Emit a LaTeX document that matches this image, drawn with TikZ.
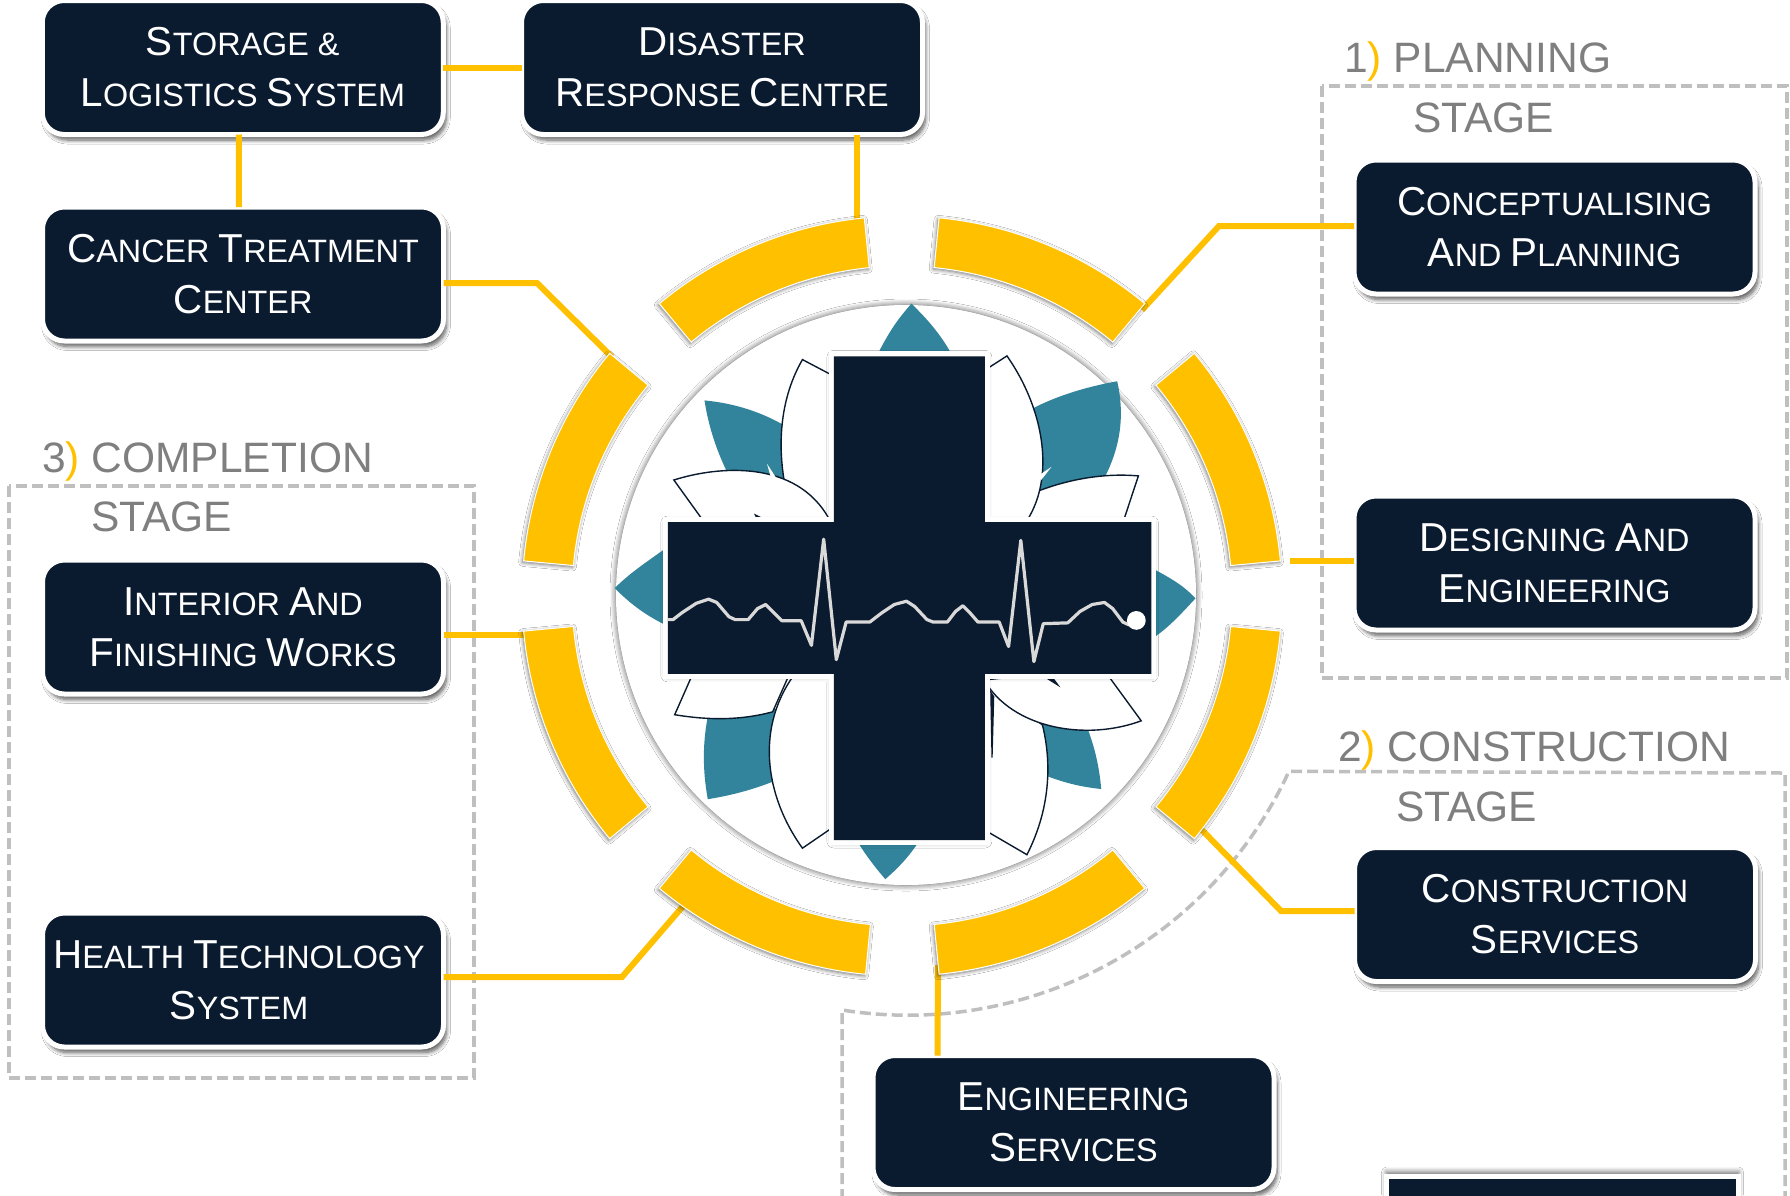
\documentclass[tikz,border=0pt]{standalone}
\usepackage{fontspec}
\setmainfont{Liberation Sans}
\usetikzlibrary{shadows.blur,calc}
\definecolor{navy}{HTML}{0B1B2F}
\definecolor{teal}{HTML}{31849B}
\definecolor{gold}{HTML}{FFC000}
\definecolor{lab}{HTML}{7F7F7F}
\definecolor{dash}{HTML}{BFBFBF}
\newcommand\C[1]{{\fontsize{40.4}{51}\selectfont #1}}
\newcommand\seg[2]{\path[segstyle] ([shift={(-#1:380)}]902,596) arc[start angle=-#1,end angle=-#2,radius=380] -- ([shift={(-#2:330)}]902,596) arc[start angle=-#2,end angle=-#1,radius=330] -- cycle;}
\tikzset{
  softshadow/.style={blur shadow={shadow xshift=3pt,shadow yshift=-5.5pt,shadow blur radius=4pt,shadow blur steps=8,shadow opacity=65}},
  box/.style={rectangle,rounded corners=22pt,draw=white,fill=navy,line width=5pt,inner sep=0pt,outer sep=0pt,minimum width=401pt,minimum height=134pt,text=white,align=center,font=\fontsize{32.35}{51}\selectfont,softshadow},
  plainbox/.style={rectangle,draw=white,fill=navy,line width=5pt,inner sep=0pt,outer sep=0pt,minimum width=352pt,minimum height=240pt,blur shadow={shadow xshift=0pt,shadow yshift=4pt,shadow blur radius=5pt,shadow blur steps=8,shadow opacity=60}},
  link/.style={draw=gold,line width=6pt,line join=miter},
  frame/.style={draw=dash,line width=3.5pt,dash pattern=on 11pt off 5pt},
  stagelabel/.style={anchor=base west,inner sep=0pt,text=lab,font=\fontsize{42.5}{42.5}\selectfont},
  segstyle/.style={fill=gold,draw=white,line width=1pt,blur shadow={shadow xshift=-1pt,shadow yshift=-1.5pt,shadow blur radius=4pt,shadow blur steps=6,shadow opacity=55}},
  disc/.style={circle,fill=white,minimum size=580pt,inner sep=0pt,blur shadow={shadow xshift=0pt,shadow yshift=0pt,shadow blur radius=6pt,shadow blur steps=6,shadow opacity=70}},
  leaf/.style={fill=white,draw=navy,line width=1.4pt,line join=miter},
}
\begin{document}
\begin{tikzpicture}[x=1pt,y=-1pt]
\useasboundingbox (0,0) rectangle (1790,1195);
\fill[white] (0,0) rectangle (1790,1195);

% frames
\draw[frame] (1322,86) rectangle (1787,678);
\draw[frame] (9,486) rectangle (474,1078);
\draw[frame] (842,1200) -- (842,1010) arc[start angle=99,end angle=24.8,radius=420] -- (1785,773) -- (1785,1200);

% nodes
\node[box] (storage) at (242.75,67.5) {\C{S}TORAGE \&\\\C{L}OGISTICS \C{S}YSTEM};
\node[box] (disaster) at (722,67.5) {\C{D}ISASTER\\\C{R}ESPONSE \C{C}ENTRE};
\node[box] (cancer) at (243,274) {\C{C}ANCER \C{T}REATMENT\\\C{C}ENTER};
\node[box] (concept) at (1554.5,227) {\C{C}ONCEPTUALISING\\\C{A}ND \C{P}LANNING};
\node[box] (design) at (1554.5,563) {\C{D}ESIGNING \C{A}ND\\\C{E}NGINEERING};
\node[box] (interior) at (243,627) {\C{I}NTERIOR \C{A}ND\\\C{F}INISHING \C{W}ORKS};
\node[box] (health) at (243,980) {\C{H}EALTH \C{T}ECHNOLOGY\hspace*{8pt}\\\C{S}YSTEM\hspace*{8pt}};
\node[box] (construction) at (1555,914.5) {\C{C}ONSTRUCTION\\\C{S}ERVICES};
\node[box] (engineering) at (1073.5,1122.5) {\C{E}NGINEERING\\\C{S}ERVICES};
\node[plainbox] (hidden) at (1562.5,1296) {};

% end points of connectors on the ring
\coordinate (ringA) at (857,226);
\coordinate (ringB) at (612,357);
\coordinate (ringC) at (1142,310);
\coordinate (ringD) at (1290,561);
\coordinate (ringE) at (1200,828);
\coordinate (ringF) at (938,965);
\coordinate (ringG) at (684,905);
\coordinate (ringH) at (530,634.5);
\coordinate (bendB) at (537,283);
\coordinate (bendC) at (1219,226);
\coordinate (bendE) at (1281,911);
\coordinate (bendG) at (622,977);

% connectors
\draw[link] (storage.east) -- (disaster.west);
\draw[link] ([xshift=-4pt]storage.south) -- ([xshift=-4pt]cancer.north);
\draw[link] ([xshift=135pt]disaster.south) -- (ringA);
\draw[link] ([yshift=-9pt]cancer.east) -- (bendB) -- (ringB);
\draw[link] ([yshift=1pt]concept.west) -- (bendC) -- (ringC);
\draw[link] ([yshift=2pt]design.west) -- (ringD);
\draw[link] ([yshift=3.5pt]construction.west) -- (bendE) -- (ringE);
\draw[link] ([xshift=-136pt]engineering.north) -- (ringF);
\draw[link] ([yshift=3pt]health.east) -- (bendG) -- (ringG);
\draw[link] ([yshift=-7.5pt]interior.east) -- (ringH);

% ring of segments
\seg{95.7}{129.7}
\seg{50.3}{84.4}
\seg{5.3}{39.7}
\seg{-5.3}{-39.7}
\seg{-50.3}{-84.4}
\seg{-95.5}{-129.7}
\seg{185.3}{219.7}
\seg{140.3}{174.7}

% central disc
\node[disc] (hub) at (906,595) {};

% emblem (local coordinates)
\begin{scope}[shift={(580,280)},x=0.40816pt,y=-0.40816pt]
  % teal leaves
  \fill[teal] (812,58) .. controls (770,105) and (750,140) .. (720,200) -- (920,200) .. controls (890,140) and (855,100) .. (812,58) -- cycle;
  \fill[teal] (748,1468) .. controls (720,1435) and (700,1410) .. (670,1360) -- (840,1360) .. controls (810,1410) and (780,1440) .. (748,1468) -- cycle;
  \fill[teal] (85,755) .. controls (125,715) and (165,690) .. (220,650) -- (220,850) .. controls (165,825) and (125,795) .. (85,755) -- cycle;
  \fill[teal] (1508,780) .. controls (1475,745) and (1445,730) .. (1400,705) -- (1400,880) .. controls (1445,850) and (1475,815) .. (1508,780) -- cycle;
  \fill[teal] (1090,325) .. controls (1160,285) and (1240,262) .. (1316,248) .. controls (1335,330) and (1325,410) .. (1282,490) -- (1110,530) -- cycle;
  \fill[teal] (305,295) .. controls (380,302) and (450,325) .. (510,362) -- (520,500) -- (365,480) .. controls (335,420) and (315,360) .. (305,295) -- cycle;
  \fill[teal] (313,1272) .. controls (375,1262) and (430,1247) .. (490,1222) -- (490,1050) -- (315,1060) .. controls (300,1130) and (300,1200) .. (313,1272) -- cycle;
  \fill[teal] (1277,1247) .. controls (1225,1242) and (1180,1230) .. (1130,1210) -- (1120,1080) -- (1240,1090) .. controls (1260,1140) and (1272,1190) .. (1277,1247) -- cycle;
  % outlined leaves
  \path[leaf] (545,195) -- (640,245) -- (660,620) -- (520,620) -- (500,490) .. controls (485,400) and (490,290) .. (545,195) -- cycle;
  \path[leaf] (230,490) .. controls (340,455) and (530,440) .. (610,585) -- (620,620) -- (320,615) -- cycle;
  \path[leaf] (1368,480) .. controls (1280,472) and (1190,490) .. (1115,520) -- (1060,620) -- (1325,610) -- cycle;
  \path[leaf] (1046,186) -- (970,235) -- (980,620) -- (1080,610) .. controls (1170,500) and (1140,320) .. (1046,186) -- cycle;
  \path[leaf] (232,1065) -- (285,945) -- (520,950) -- (472,1058) .. controls (390,1080) and (310,1078) .. (232,1065) -- cycle;
  \path[leaf] (545,1392) -- (650,1320) -- (650,950) -- (530,960) .. controls (430,1090) and (450,1260) .. (545,1392) -- cycle;
  \path[leaf] (1095,1408) -- (970,1335) -- (970,970) -- (1133,1090) .. controls (1160,1200) and (1145,1310) .. (1095,1408) -- cycle;
  \path[leaf] (1375,1080) -- (1280,950) -- (990,980) .. controls (1060,1100) and (1240,1130) .. (1375,1080) -- cycle;
  \fill[navy] (1005,1005) -- (1015,1020) -- (1011,1170) -- (1008,1170) -- cycle;
  \fill[white] (458,450) -- (482,487) -- (468,485) -- cycle;
  \fill[white] (1125,478) -- (1155,458) -- (1130,490) -- cycle;
  \fill[navy] (426,572) -- (446,582) -- (432,584) -- cycle;
  \fill[navy] (1140,975) -- (1177,998) -- (1160,975) -- cycle;
  % cross
  \draw[fill=white,draw=white,line width=10pt,line join=miter,blur shadow={shadow xshift=0pt,shadow yshift=-1pt,shadow blur radius=7pt,shadow blur steps=6,shadow opacity=45}]
     (622,187) -- (992,187) -- (992,593) -- (1400,593) -- (1400,965) -- (992,965) -- (992,1372) -- (622,1372) -- (622,965) -- (215,965) -- (215,593) -- (622,593) -- cycle;
  \fill[navy] (622,187) -- (992,187) -- (992,593) -- (1400,593) -- (1400,965) -- (992,965) -- (992,1372) -- (622,1372) -- (622,965) -- (215,965) -- (215,593) -- (622,593) -- cycle;
  % trace
  \draw[draw=black!15,line width=3.2pt,line join=round,line cap=round]
    (217,832) -- (228,832) -- (250,815) -- (285,792) -- (315,782) -- (335,790) -- (365,825) -- (380,832) -- (412,832) -- (435,805) -- (455,795) -- (470,810) -- (495,835) -- (542,835) -- (567,895) -- (597,635) -- (628,930) -- (652,838) -- (710,838) -- (740,815) -- (770,795) -- (800,787) -- (820,800) -- (850,832) -- (865,838) -- (900,838) -- (920,812) -- (938,798) -- (955,815) -- (975,838) -- (1027,838) -- (1050,898) -- (1080,638) -- (1112,935) -- (1135,842) -- (1195,840) -- (1225,812) -- (1255,795) -- (1285,790) -- (1305,805) -- (1330,838) -- (1345,845);
  \fill[white] (1363,834) circle[radius=23];
\end{scope}

% stage labels
\node[stagelabel] (planA) at (1344,72) {1\textcolor{gold}{)} PLANNING};
\node[stagelabel] (planB) at (1413,132) {STAGE};
\node[stagelabel] (consA) at (1338,761) {2\textcolor{gold}{)} CONSTRUCTION};
\node[stagelabel] (consB) at (1396,821) {STAGE};
\node[stagelabel] (compA) at (42,472) {3\textcolor{gold}{)} COMPLETION};
\node[stagelabel] (compB) at (91,531) {STAGE};
\end{tikzpicture}
\end{document}
